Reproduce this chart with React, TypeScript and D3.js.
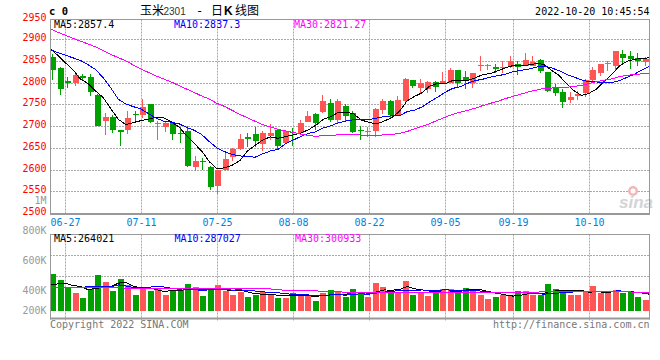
import React from "react";
import * as d3 from "d3";

const dates = ["06-23","06-24","06-27","06-28","06-29","06-30","07-01","07-04","07-05","07-06","07-07","07-08","07-11","07-12","07-13","07-14","07-15","07-18","07-19","07-20","07-21","07-22","07-25","07-26","07-27","07-28","07-29","08-01","08-02","08-03","08-04","08-05","08-08","08-09","08-10","08-11","08-12","08-15","08-16","08-17","08-18","08-19","08-22","08-23","08-24","08-25","08-26","08-29","08-30","08-31","09-01","09-02","09-05","09-06","09-07","09-08","09-09","09-13","09-14","09-15","09-16","09-19","09-20","09-21","09-22","09-23","09-26","09-27","09-28","09-29","09-30","10-10","10-11","10-12","10-13","10-14","10-17","10-18","10-19","10-20"];

const open = [2859,2834,2804,2799,2816,2813,2772,2712,2721,2693,2692,2729,2727,2751,2705,2698,2709,2685,2689,2608,2621,2608,2564,2599,2630,2649,2677,2682,2660,2679,2691,2661,2688,2684,2710,2728,2733,2753,2715,2746,2732,2692,2687,2689,2738,2758,2726,2759,2807,2788,2786,2803,2801,2801,2830,2814,2801,2840,2841,2836,2834,2836,2844,2840,2840,2854,2826,2790,2780,2761,2770,2777,2807,2824,2844,2840,2867,2863,2858,2849];
const high = [2867,2836,2814,2823,2821,2820,2774,2730,2726,2693,2735,2735,2763,2752,2712,2712,2710,2699,2701,2633,2628,2609,2601,2639,2650,2682,2686,2698,2689,2705,2693,2693,2697,2716,2736,2730,2772,2763,2764,2751,2735,2702,2699,2743,2764,2760,2770,2811,2807,2809,2805,2805,2826,2834,2830,2827,2824,2862,2844,2844,2851,2861,2850,2868,2861,2855,2826,2797,2786,2780,2782,2809,2837,2844,2851,2874,2877,2874,2869,2859];
const low = [2807,2773,2788,2793,2805,2770,2701,2680,2684,2655,2682,2712,2720,2709,2670,2687,2670,2661,2608,2597,2601,2553,2545,2598,2620,2647,2652,2653,2643,2670,2647,2661,2655,2684,2710,2693,2730,2710,2705,2710,2684,2668,2676,2676,2728,2718,2723,2757,2789,2774,2777,2780,2797,2801,2791,2786,2788,2828,2830,2824,2823,2834,2818,2838,2838,2824,2780,2770,2742,2755,2761,2767,2805,2817,2827,2828,2844,2832,2840,2840];
const close = [2830,2787,2799,2818,2811,2779,2702,2722,2692,2687,2719,2726,2744,2710,2709,2709,2682,2683,2610,2621,2618,2562,2600,2626,2649,2672,2671,2666,2686,2686,2656,2689,2686,2707,2723,2709,2758,2716,2758,2724,2687,2689,2689,2740,2758,2726,2760,2809,2793,2800,2803,2791,2804,2830,2799,2804,2822,2842,2842,2832,2836,2850,2836,2853,2848,2828,2782,2778,2756,2767,2774,2807,2830,2844,2845,2873,2857,2855,2851,2855];
const volume = [596000,499000,366000,295000,214000,349000,580000,472000,327000,515000,
  419000,258000,349000,327000,375000,258000,338000,338000,435000,382000,
  242000,366000,419000,327000,258000,311000,225000,258000,311000,258000,
  214000,214000,285000,258000,258000,161000,285000,338000,322000,230000,
  354000,269000,230000,451000,391000,338000,311000,483000,258000,311000,
  242000,295000,354000,354000,338000,370000,354000,258000,193000,230000,
  258000,258000,322000,322000,258000,258000,435000,354000,338000,258000,
  258000,301000,403000,285000,285000,338000,285000,306000,230000,177000];

const ma5Lead = [2879, 2864, 2847, 2831];
const ma10Lead = [2877, 2870, 2864, 2858, 2852, 2842, 2831, 2812, 2789];
const ma30Lead = [2925,2917,2910,2903,2896,2890,2883,2875,2866,2858,2851,2841,2832,2824,2816,2809,2802,2794,2786,2778,2770,2763,2753,2746,2737,2728,2720,2712,2704];
const vma5Lead = [419000, 435000, 446000, 411000];
const vma10Lead = [375000, 375000, 375000, 375000, 378000, 391000, 398000, 398000, 391000];
const vma30Lead = [375000,375000,374000,374000,373000,373000,372000,372000,371000,371000,370000,369000,369000,368000,367000,367000,366000,365000,364000,363000,362000,361000,360000,359000,358000,357000,356000,355000,355000];

const priceTicks = [2950, 2900, 2850, 2800, 2750, 2700, 2650, 2600, 2550, 2500];
const volTicks = [800000, 600000, 400000, 200000];
const volTickLabels = ["800K", "600K", "400K", "200K"];
const dateTicks = ["06-27", "07-11", "07-25", "08-08", "08-22", "09-05", "09-19", "10-10"];

const headerMain = [
  { text: "MA5:2857.4", color: "#000000" },
  { text: "MA10:2837.3", color: "#0000ff" },
  { text: "MA30:2821.27", color: "#ff00ff" },
];
const headerVol = [
  { text: "MA5:264021", color: "#000000" },
  { text: "MA10:287027", color: "#0000ff" },
  { text: "MA30:300933", color: "#ff00ff" },
];

const RED = "#ff5555";
const GREEN = "#00a000";
const GRID = "#aaaaaa";
const BORDER = "#999999";
const MONO = "'DejaVu Sans Mono', 'Liberation Mono', monospace";

function movingAvg(vals: number[], k: number, lead: number[]) {
  return vals.map((_, i) => (i < k - 1 ? lead[i] : (d3.mean(vals.slice(i - k + 1, i + 1)) as number)));
}

export default function App() {
  const n = dates.length;
  const L = 50, R = 650;
  const T = 19.5, B = 213.5;
  const VT = 234.5, VB = 318.5, VBASE = 311;

  const band = d3.scaleBand<number>().domain(d3.range(n)).range([L, R]);
  const lx = d3.scaleLinear().domain([0, n - 1]).range([L, R]);
  const y = d3.scaleLinear().domain([2500, 2950]).range([213.5, 17.75]);
  const vy = d3.scaleLinear().domain([0, 1240000]).range([VBASE, 234]);
  const volLabelY = d3.scaleLinear().domain([200000, 400000, 800000]).range([313.5, 293.5, 233.5]);

  const ma5 = movingAvg(close, 5, ma5Lead);
  const ma10 = movingAvg(close, 10, ma10Lead);
  const ma30 = movingAvg(close, 30, ma30Lead);
  const vma5 = movingAvg(volume, 5, vma5Lead);
  const vma10 = movingAvg(volume, 10, vma10Lead);
  const vma30 = movingAvg(volume, 30, vma30Lead);

  const pLine = d3.line<number>().x((_, i) => lx(i)).y((v) => y(v));
  const vLine = d3.line<number>().x((_, i) => lx(i)).y((v) => vy(v));

  const gridXs = dateTicks.map((d) => Math.round(lx(dates.indexOf(d))) + 0.5);
  const volGridYs = [1, 2].map((k) => Math.floor(VT + (k * (VB - VT)) / 4) + 0.5);

  return (
    <svg width={660} height={360} style={{ position: "absolute", left: 0, top: 0, background: "#fff" }}>
      <rect x={0} y={0} width={660} height={360} fill="#fff" />
      {/* header */}
      <text x={49} y={15} fontFamily={MONO} fontWeight="bold" fontSize={10.5} fill="#000">c 0</text>
      <text y={14.5} fontSize={12} fill="#000">
        <tspan x={140} fontFamily="'Noto Sans CJK SC'">玉米</tspan>
        <tspan x={163.5} fontFamily="'Liberation Sans', Arial" fontSize={10} fill="#333">2301</tspan>
        <tspan x={196} fontFamily={MONO} fontSize={12}>-</tspan>
        <tspan x={211} fontFamily="'Noto Sans CJK SC'">日</tspan>
        <tspan x={224} fontFamily="'Liberation Sans', Arial" fontWeight="bold">K</tspan>
        <tspan x={235} fontFamily="'Noto Sans CJK SC'">线图</tspan>
      </text>
      <text x={649.5} y={15} textAnchor="end" fontFamily={MONO} fontSize={10} fill="#000">2022-10-20 10:45:54</text>

      {/* main panel grid */}
      {priceTicks.filter((v) => v > 2500 && v < 2950).map((v) => (
        <line key={v} x1={L} x2={R} y1={Math.floor(y(v)) + 0.5} y2={Math.floor(y(v)) + 0.5} stroke={GRID} strokeDasharray="2,1" />
      ))}
      {gridXs.map((gx, i) => (
        <line key={i} x1={gx} x2={gx} y1={T} y2={B} stroke={GRID} strokeDasharray="2,1" />
      ))}
      {/* price labels */}
      {priceTicks.map((v) => (
        <text key={v} x={46.5} y={Math.floor(Math.max(y(v), T)) + 1.5} textAnchor="end" fontFamily={MONO} fontSize={10} fill="#ff0000">{v}</text>
      ))}
      <text x={46.5} y={203.5} textAnchor="end" fontFamily={MONO} fontSize={10} fill="#999">1M</text>

      {/* watermark */}
      <g opacity={0.9}>
        <circle cx={633} cy={191} r={5} fill="#f2b0b0" />
        <circle cx={633} cy={191} r={2.5} fill="#fff" />
        <text x={619} y={208} fontFamily="'Liberation Sans', Arial" fontStyle="italic" fontWeight="bold" fontSize={17} fill="#d0d0d0">sina</text>
      </g>

      {/* candles */}
      {d3.range(n).map((i) => {
        const up = close[i] >= open[i];
        const col = up ? RED : GREEN;
        const x0 = Math.round(band(i) as number);
        const yTop = Math.round(y(Math.max(open[i], close[i])));
        const yBot = Math.round(y(Math.min(open[i], close[i])));
        const hi = Math.round(y(high[i]));
        const lo = Math.round(y(low[i]));
        return (
          <g key={i}>
            <rect x={x0 + 2} y={hi} width={1} height={Math.max(1, lo - hi)} fill={col} />
            <rect x={x0} y={yTop} width={6} height={Math.max(1, yBot - yTop)} fill={col} />
          </g>
        );
      })}

      {/* MA lines */}
      <g shapeRendering="crispEdges">
        <path d={pLine(ma5) || ""} fill="none" stroke="#000" strokeWidth={1} />
        <path d={pLine(ma10) || ""} fill="none" stroke="#0000ff" strokeWidth={1} />
        <path d={pLine(ma30) || ""} fill="none" stroke="#ff00ff" strokeWidth={1} />
      </g>

      {/* main border */}
      <line x1={L + 0.5} x2={L + 0.5} y1={T} y2={B + 1} stroke={BORDER} />
      <line x1={R - 0.5} x2={R - 0.5} y1={T} y2={B + 1} stroke={BORDER} />
      <line x1={L} x2={R} y1={T} y2={T} stroke={BORDER} />
      <line x1={L} x2={R} y1={B + 0.5} y2={B + 0.5} stroke={BORDER} strokeWidth={2} />

      {/* main MA header */}
      {headerMain.map((h, i) => (
        <text key={i} x={54 + i * 120} y={27.5} fontFamily={MONO} fontSize={10} fill={h.color}>{h.text}</text>
      ))}

      {/* date labels */}
      {dateTicks.map((d, i) => (
        <text key={d} x={gridXs[i]} y={225.5} textAnchor="middle" fontFamily={MONO} fontSize={10} fill="#0080e0">{d}</text>
      ))}

      {/* volume panel */}
      {volGridYs.map((gy, i) => (
        <line key={i} x1={L} x2={R} y1={gy} y2={gy} stroke={GRID} strokeDasharray="2,1" />
      ))}
      {gridXs.map((gx, i) => (
        <line key={i} x1={gx} x2={gx} y1={VT} y2={VB + 3} stroke={GRID} strokeDasharray="2,1" />
      ))}
      {volTicks.map((v, i) => (
        <text key={v} x={46.5} y={volLabelY(v)} textAnchor="end" fontFamily={MONO} fontSize={10} fill="#999">{volTickLabels[i]}</text>
      ))}
      {d3.range(n).map((i) => {
        const up = close[i] >= open[i];
        const x0 = Math.round(band(i) as number);
        const top = Math.round(vy(volume[i]));
        return <rect key={i} x={x0} y={top} width={6} height={VBASE - top} fill={up ? RED : GREEN} />;
      })}
      <g shapeRendering="crispEdges">
        <path d={vLine(vma5) || ""} fill="none" stroke="#000" strokeWidth={1} />
        <path d={vLine(vma10) || ""} fill="none" stroke="#0000ff" strokeWidth={1} />
        <path d={vLine(vma30) || ""} fill="none" stroke="#ff00ff" strokeWidth={1} />
      </g>

      <line x1={L + 0.5} x2={L + 0.5} y1={VT} y2={VB + 1} stroke={BORDER} />
      <line x1={R - 0.5} x2={R - 0.5} y1={VT} y2={VB + 1} stroke={BORDER} />
      <line x1={L} x2={R} y1={VT} y2={VT} stroke={BORDER} />
      <line x1={L} x2={R} y1={VB} y2={VB} stroke={BORDER} strokeWidth={2} />
      {headerVol.map((h, i) => (
        <text key={i} x={54 + i * 120.5} y={242} fontFamily={MONO} fontSize={10} fill={h.color}>{h.text}</text>
      ))}

      {/* footer */}
      <text x={50} y={328} fontFamily={MONO} fontSize={10} fill="#777">Copyright 2022 SINA.COM</text>
      <text x={649.5} y={328} textAnchor="end" fontFamily={MONO} fontSize={10} fill="#777">http://finance.sina.com.cn</text>
    </svg>
  );
}
